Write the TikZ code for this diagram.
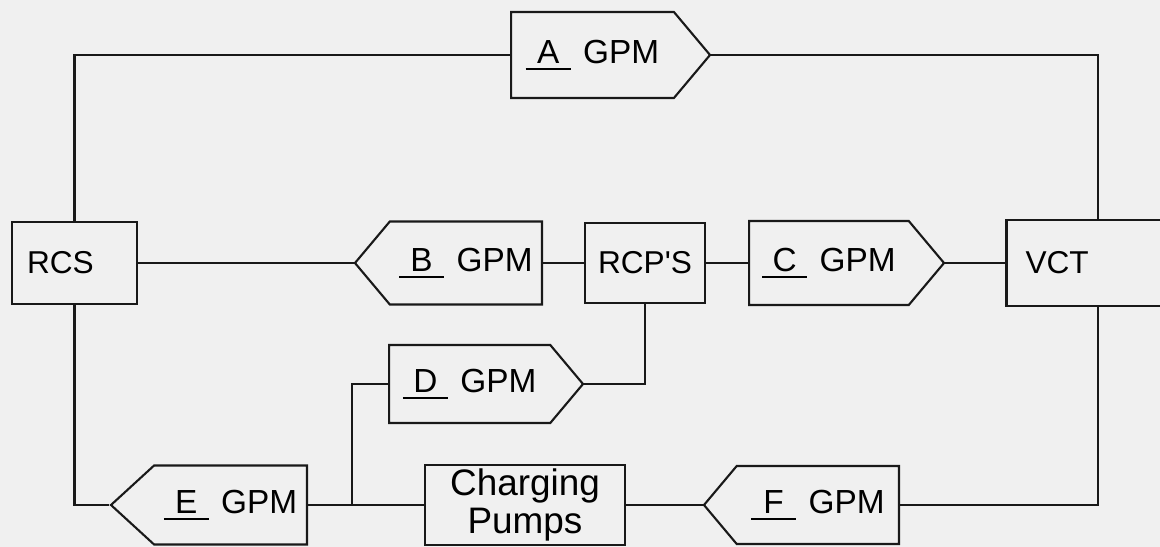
\documentclass[tikz,border=0pt]{standalone}
\usepackage{fontspec}
\setmainfont{Liberation Sans}
\usetikzlibrary{shapes.symbols}

\newcommand{\flowlbl}[1]{\rlap{\rule[-3.5pt]{0.9cm}{1.2pt}}\makebox[0.9cm]{#1}\hspace{0.25cm}GPM}

\begin{document}
\begin{tikzpicture}[
    x=0.02cm, y=-0.02cm,
    line/.style={draw=black!90, line width=1.2pt},
    blk/.style={rectangle, line, fill=none, font=\fontsize{18}{20}\selectfont, align=center},
    flow/.style={signal, line, signal pointer angle=100, font=\fontsize{19}{21}\selectfont}
]
\fill[black!6] (0,0) rectangle (1160,547);
\useasboundingbox (0,0) rectangle (1160,547);

% boxes
\node[blk, minimum width=2.5cm, minimum height=1.64cm, text width=1.9cm, align=left, inner xsep=0.3cm] (rcs) at (74.5,263) {RCS};
\node[blk, minimum width=2.4cm, minimum height=1.6cm] (rcp) at (645,263) {RCP\textquotesingle S};
\node[blk, minimum width=3.28cm, minimum height=1.72cm, text width=2.9cm, align=left, inner xsep=0.38cm] (vct) at (1098,263) {VCT};
\node[blk, minimum width=4cm, minimum height=1.6cm, inner ysep=0pt, font=\fontsize{21}{22}\selectfont] (pumps) at (525,505) {Charging\\Pumps};

% flow meters
\node[flow, signal to=east, anchor=west, minimum width=3.98cm, minimum height=1.72cm] (fa) at (510,55) {\flowlbl{A}};
\node[flow, signal to=west, anchor=east, minimum width=3.74cm, minimum height=1.66cm] (fb) at (543,263) {\flowlbl{B}};
\node[flow, signal to=east, anchor=west, minimum width=3.9cm, minimum height=1.68cm] (fc) at (748,263) {\flowlbl{C}};
\node[flow, signal to=east, anchor=west, minimum width=3.88cm, minimum height=1.56cm] (fd) at (388,384) {\flowlbl{D}};
\node[flow, signal to=west, anchor=east, signal pointer angle=85, minimum width=3.92cm, minimum height=1.58cm] (fe) at (308,505) {\flowlbl{E}};
\node[flow, signal to=west, anchor=east, minimum width=3.9cm, minimum height=1.56cm] (ff) at (900,505) {\flowlbl{F}};

\coordinate (tee) at (352,505);

% piping
\draw[line] (rcs.north) |- (fa.west);
\draw[line] (fa.east) -| (vct.north);
\draw[line] (rcs.east) -- (fb.west);
\draw[line] (fb.east) -- (rcp.west);
\draw[line] (rcp.east) -- (fc.west);
\draw[line] (fc.east) -- (vct.west);
\draw[line] (rcp.south) |- (fd.east);
\draw[line] (fd.west) -| (tee);
\draw[line] (rcs.south) |- (fe.west);
\draw[line] (fe.east) -- (pumps.west);
\draw[line] (pumps.east) -- (ff.west);
\draw[line] (ff.east) -| (vct.south);
\end{tikzpicture}
\end{document}
